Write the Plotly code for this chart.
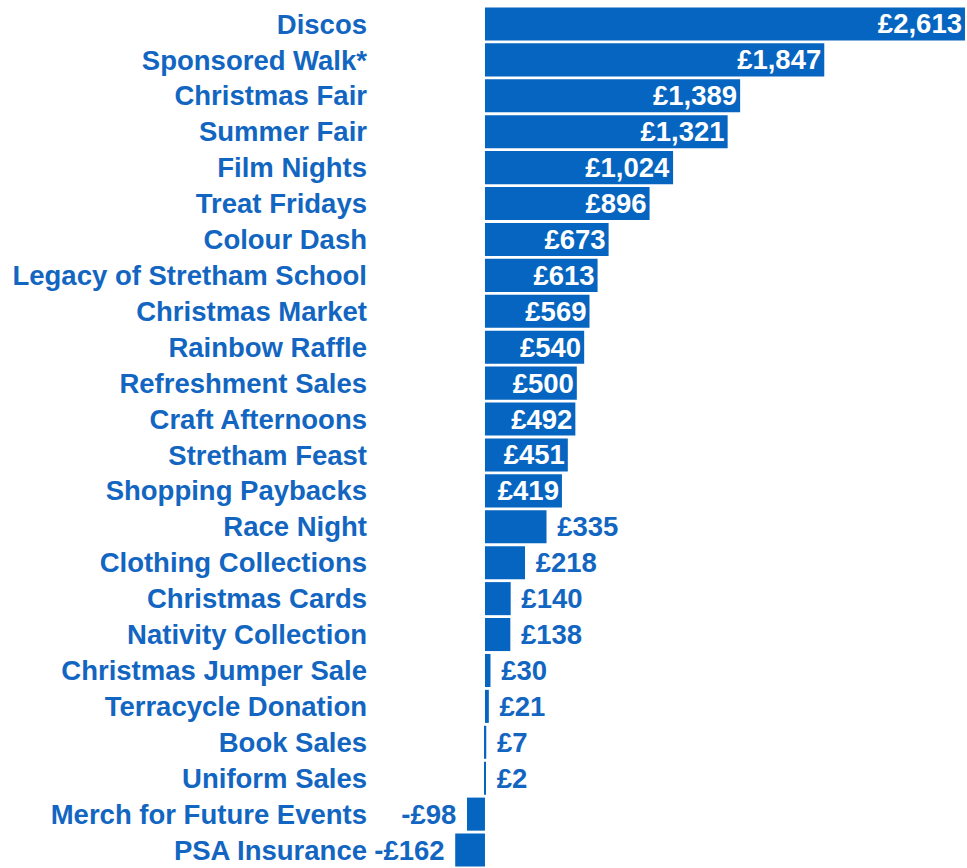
import plotly.graph_objects as go

categories = ["Discos", "Sponsored Walk*", "Christmas Fair", "Summer Fair", "Film Nights",
              "Treat Fridays", "Colour Dash", "Legacy of Stretham School", "Christmas Market",
              "Rainbow Raffle", "Refreshment Sales", "Craft Afternoons", "Stretham Feast",
              "Shopping Paybacks", "Race Night", "Clothing Collections", "Christmas Cards",
              "Nativity Collection", "Christmas Jumper Sale", "Terracycle Donation",
              "Book Sales", "Uniform Sales", "Merch for Future Events", "PSA Insurance"]
values = [2613, 1847, 1389, 1321, 1024, 896, 673, 613, 569, 540, 500, 492, 451, 419,
          335, 218, 140, 138, 30, 21, 7, 2, -98, -162]

def fmt(v):
    s = "£{:,}".format(abs(v))
    return ("-" + s) if v < 0 else s

inside = [v >= 400 for v in values]
texts = []
for v, ins in zip(values, inside):
    t = fmt(v)
    if not ins:
        t = (" " + t) if v >= 0 else (t + " ")
    texts.append(t)
positions = ["inside" if ins else "outside" for ins in inside]

BAR = "#0665C0"
TXT = "#1266C1"
FONT = "Liberation Sans, Arial, sans-serif"
FS = 27.5

fig = go.Figure(go.Bar(
    x=values, y=categories, orientation="h",
    marker=dict(color=BAR, line=dict(width=0)),
    text=texts, textposition=positions,
    insidetextanchor="end",
    constraintext="none",
    insidetextfont=dict(color="white", size=FS, family=FONT, weight="bold"),
    outsidetextfont=dict(color=TXT, size=FS, family=FONT, weight="bold"),
    cliponaxis=False,
    hoverinfo="skip",
))

fig.update_layout(
    width=967, height=868,
    margin=dict(l=372, r=0, t=6, b=0),
    plot_bgcolor="white", paper_bgcolor="white",
    bargap=0.08,
    showlegend=False,
    uniformtext=dict(mode=False),
    xaxis=dict(range=[-615, 2624], visible=False, showgrid=False,
               zeroline=True, zerolinecolor="#d9d9d9", zerolinewidth=1, fixedrange=True),
    yaxis=dict(autorange="reversed", showgrid=False, ticks="", showline=False,
               ticklabelstandoff=4, fixedrange=True,
               tickfont=dict(color=TXT, size=FS, family=FONT, weight="bold")),
)

fig.write_html("out.html", config={"displayModeBar": False})
with open("out.html", "r", encoding="utf-8") as f:
    html = f.read()
html = html.replace("<body>", '<body style="margin:0;padding:0;overflow:hidden">', 1)
with open("out.html", "w", encoding="utf-8") as f:
    f.write(html)
